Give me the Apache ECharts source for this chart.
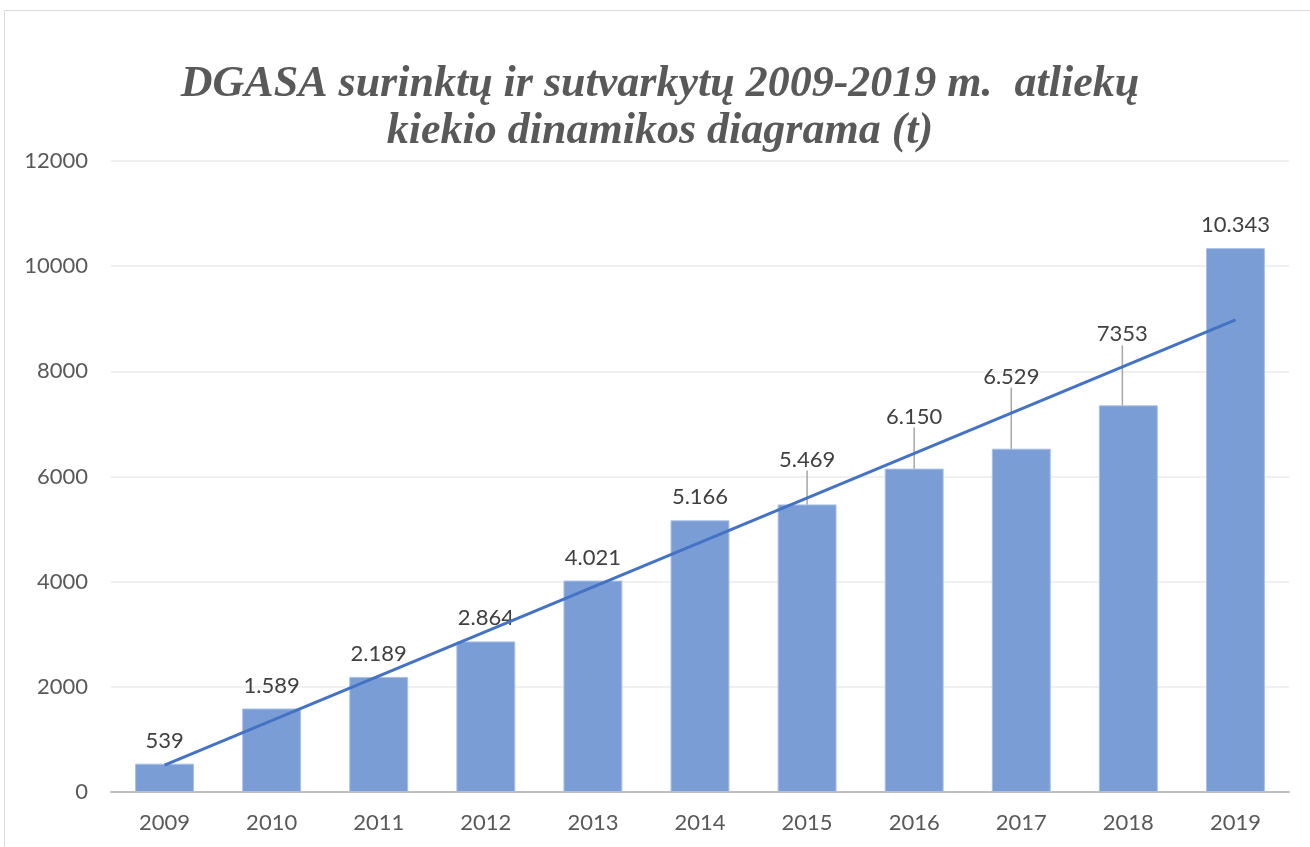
<!DOCTYPE html>
<html>
<head>
<meta charset="utf-8">
<script src="https://cdn.jsdelivr.net/npm/echarts@6/dist/echarts.min.js"></script>
<style>
  html, body { margin: 0; padding: 0; background: #fff; }
  #chart { width: 1310px; height: 847px; }
</style>
</head>
<body>
<div id="chart"></div>
<script>
// Data
const years = ['2009', '2010', '2011', '2012', '2013', '2014', '2015', '2016', '2017', '2018', '2019'];
const amounts = [539, 1589, 2189, 2864, 4021, 5166, 5469, 6150, 6529, 7353, 10343];
const amountLabels = ['539', '1.589', '2.189', '2.864', '4.021', '5.166', '5.469', '6.150', '6.529', '7353', '10.343'];
// Linear trend line, start and end as drawn
const trendYears = ['2009', '2019'];
const trendValues = [510, 8980];
const yTicks = [0, 2000, 4000, 6000, 8000, 10000, 12000];

// Labels that were pulled up with a leader line: index -> [dx, dy]
const labelShift = { 6: [0, -22], 7: [0, -29], 8: [-10, -49], 9: [-6, -48] };

const chart = echarts.init(document.getElementById('chart'), null, { renderer: 'canvas' });

const axisFont = 'Lato, "Open Sans", sans-serif';

const barData = amounts.map((v, i) => ({
  value: v,
  labelLine: { show: !!labelShift[i] }
}));

chart.setOption({
  animation: false,
  title: {
    text: 'DGASA surinktų ir sutvarkytų 2009-2019 m.  atliekų\nkiekio dinamikos diagrama (t)',
    left: 655,
    top: 56,
    textAlign: 'center',
    textStyle: {
      fontFamily: '"Liberation Serif", "DejaVu Serif", serif',
      fontStyle: 'italic',
      fontWeight: 'bold',
      fontSize: 44,
      lineHeight: 47,
      color: '#595959'
    }
  },
  graphic: [{
    type: 'rect',
    shape: { x: 4.5, y: 10.5, width: 1330, height: 860 },
    style: { fill: 'none', stroke: '#d9d9d9', lineWidth: 1 },
    silent: true
  }],
  grid: { left: 111, right: 21, top: 161, bottom: 55 },
  xAxis: {
    type: 'category',
    data: years,
    axisTick: { show: false },
    axisLine: { lineStyle: { color: '#bfbfbf', width: 2 } },
    axisLabel: { color: '#595959', fontSize: 22, fontFamily: axisFont, margin: 20 }
  },
  yAxis: {
    type: 'value',
    min: yTicks[0],
    max: yTicks[yTicks.length - 1],
    interval: 2000,
    axisLine: { show: false },
    axisTick: { show: false },
    axisLabel: {
      color: '#595959', fontSize: 22, fontFamily: axisFont, margin: 23,
      formatter: (v) => String(v)
    },
    splitLine: { lineStyle: { color: '#ebebeb', width: 1.5 } }
  },
  series: [{
    type: 'bar',
    data: barData,
    barCategoryGap: '45%',
    itemStyle: { color: '#7a9dd6', borderColor: '#a9c0e6', borderWidth: 1 },
    label: {
      show: true,
      position: 'top',
      distance: 12,
      color: '#404040',
      fontSize: 22,
      fontFamily: axisFont,
      formatter: (p) => amountLabels[p.dataIndex]
    },
    labelLine: { lineStyle: { color: '#a6a6a6', width: 1.5 } },
    labelLayout: (params) => {
      const s = labelShift[params.dataIndex];
      if (!s) return {};
      return { dx: s[0], dy: s[1] };
    },
    z: 2
  }, {
    type: 'line',
    data: trendYears.map((y, i) => [y, trendValues[i]]),
    symbol: 'none',
    lineStyle: { color: '#4472c4', width: 3 },
    z: 3
  }]
});

window.addEventListener('resize', () => chart.resize());
</script>
</body>
</html>
